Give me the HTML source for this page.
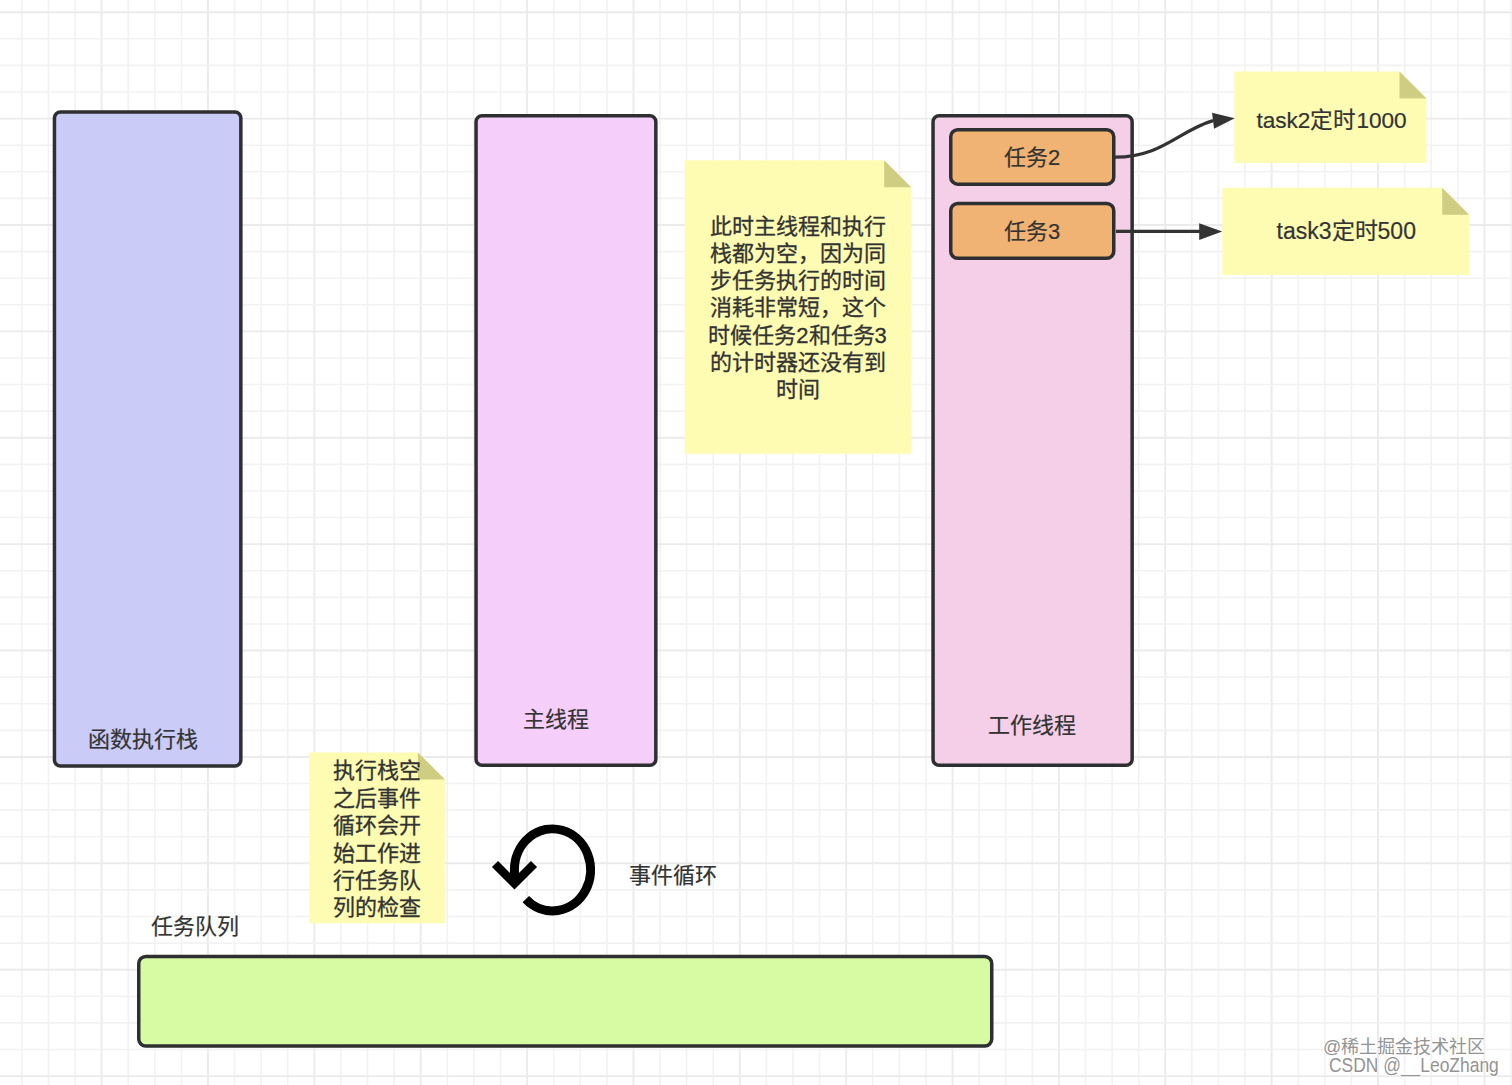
<!DOCTYPE html>
<html lang="zh-CN"><head><meta charset="utf-8"><style>
html,body{margin:0;padding:0;background:#fff;width:1512px;height:1085px;overflow:hidden}
body{position:relative;font-family:"Liberation Sans",sans-serif}
svg{position:absolute;left:0;top:0}
.t{position:absolute;white-space:nowrap;line-height:1.2;color:#333;-webkit-text-stroke:0.4px #333}
.wm{position:absolute;white-space:nowrap;line-height:1.2;color:#939393;text-shadow:0 1px 0 #fff,1px 0 0 #fff,-1px 0 0 #fff,0 -1px 0 #fff}
</style></head><body>
<svg width="1512" height="1085" viewBox="0 0 1512 1085">
<g><line x1="21.85" y1="0" x2="21.85" y2="1085" stroke="#f2f2f2" stroke-width="1.6"/>
<line x1="48.44" y1="0" x2="48.44" y2="1085" stroke="#f2f2f2" stroke-width="1.6"/>
<line x1="75.03" y1="0" x2="75.03" y2="1085" stroke="#f2f2f2" stroke-width="1.6"/>
<line x1="101.62" y1="0" x2="101.62" y2="1085" stroke="#ebebeb" stroke-width="1.9"/>
<line x1="128.22" y1="0" x2="128.22" y2="1085" stroke="#f2f2f2" stroke-width="1.6"/>
<line x1="154.81" y1="0" x2="154.81" y2="1085" stroke="#f2f2f2" stroke-width="1.6"/>
<line x1="181.40" y1="0" x2="181.40" y2="1085" stroke="#f2f2f2" stroke-width="1.6"/>
<line x1="207.99" y1="0" x2="207.99" y2="1085" stroke="#ebebeb" stroke-width="1.9"/>
<line x1="234.58" y1="0" x2="234.58" y2="1085" stroke="#f2f2f2" stroke-width="1.6"/>
<line x1="261.17" y1="0" x2="261.17" y2="1085" stroke="#f2f2f2" stroke-width="1.6"/>
<line x1="287.76" y1="0" x2="287.76" y2="1085" stroke="#f2f2f2" stroke-width="1.6"/>
<line x1="314.36" y1="0" x2="314.36" y2="1085" stroke="#ebebeb" stroke-width="1.9"/>
<line x1="340.95" y1="0" x2="340.95" y2="1085" stroke="#f2f2f2" stroke-width="1.6"/>
<line x1="367.54" y1="0" x2="367.54" y2="1085" stroke="#f2f2f2" stroke-width="1.6"/>
<line x1="394.13" y1="0" x2="394.13" y2="1085" stroke="#f2f2f2" stroke-width="1.6"/>
<line x1="420.72" y1="0" x2="420.72" y2="1085" stroke="#ebebeb" stroke-width="1.9"/>
<line x1="447.31" y1="0" x2="447.31" y2="1085" stroke="#f2f2f2" stroke-width="1.6"/>
<line x1="473.90" y1="0" x2="473.90" y2="1085" stroke="#f2f2f2" stroke-width="1.6"/>
<line x1="500.50" y1="0" x2="500.50" y2="1085" stroke="#f2f2f2" stroke-width="1.6"/>
<line x1="527.09" y1="0" x2="527.09" y2="1085" stroke="#ebebeb" stroke-width="1.9"/>
<line x1="553.68" y1="0" x2="553.68" y2="1085" stroke="#f2f2f2" stroke-width="1.6"/>
<line x1="580.27" y1="0" x2="580.27" y2="1085" stroke="#f2f2f2" stroke-width="1.6"/>
<line x1="606.86" y1="0" x2="606.86" y2="1085" stroke="#f2f2f2" stroke-width="1.6"/>
<line x1="633.45" y1="0" x2="633.45" y2="1085" stroke="#ebebeb" stroke-width="1.9"/>
<line x1="660.04" y1="0" x2="660.04" y2="1085" stroke="#f2f2f2" stroke-width="1.6"/>
<line x1="686.63" y1="0" x2="686.63" y2="1085" stroke="#f2f2f2" stroke-width="1.6"/>
<line x1="713.23" y1="0" x2="713.23" y2="1085" stroke="#f2f2f2" stroke-width="1.6"/>
<line x1="739.82" y1="0" x2="739.82" y2="1085" stroke="#ebebeb" stroke-width="1.9"/>
<line x1="766.41" y1="0" x2="766.41" y2="1085" stroke="#f2f2f2" stroke-width="1.6"/>
<line x1="793.00" y1="0" x2="793.00" y2="1085" stroke="#f2f2f2" stroke-width="1.6"/>
<line x1="819.59" y1="0" x2="819.59" y2="1085" stroke="#f2f2f2" stroke-width="1.6"/>
<line x1="846.18" y1="0" x2="846.18" y2="1085" stroke="#ebebeb" stroke-width="1.9"/>
<line x1="872.77" y1="0" x2="872.77" y2="1085" stroke="#f2f2f2" stroke-width="1.6"/>
<line x1="899.37" y1="0" x2="899.37" y2="1085" stroke="#f2f2f2" stroke-width="1.6"/>
<line x1="925.96" y1="0" x2="925.96" y2="1085" stroke="#f2f2f2" stroke-width="1.6"/>
<line x1="952.55" y1="0" x2="952.55" y2="1085" stroke="#ebebeb" stroke-width="1.9"/>
<line x1="979.14" y1="0" x2="979.14" y2="1085" stroke="#f2f2f2" stroke-width="1.6"/>
<line x1="1005.73" y1="0" x2="1005.73" y2="1085" stroke="#f2f2f2" stroke-width="1.6"/>
<line x1="1032.32" y1="0" x2="1032.32" y2="1085" stroke="#f2f2f2" stroke-width="1.6"/>
<line x1="1058.91" y1="0" x2="1058.91" y2="1085" stroke="#ebebeb" stroke-width="1.9"/>
<line x1="1085.51" y1="0" x2="1085.51" y2="1085" stroke="#f2f2f2" stroke-width="1.6"/>
<line x1="1112.10" y1="0" x2="1112.10" y2="1085" stroke="#f2f2f2" stroke-width="1.6"/>
<line x1="1138.69" y1="0" x2="1138.69" y2="1085" stroke="#f2f2f2" stroke-width="1.6"/>
<line x1="1165.28" y1="0" x2="1165.28" y2="1085" stroke="#ebebeb" stroke-width="1.9"/>
<line x1="1191.87" y1="0" x2="1191.87" y2="1085" stroke="#f2f2f2" stroke-width="1.6"/>
<line x1="1218.46" y1="0" x2="1218.46" y2="1085" stroke="#f2f2f2" stroke-width="1.6"/>
<line x1="1245.05" y1="0" x2="1245.05" y2="1085" stroke="#f2f2f2" stroke-width="1.6"/>
<line x1="1271.65" y1="0" x2="1271.65" y2="1085" stroke="#ebebeb" stroke-width="1.9"/>
<line x1="1298.24" y1="0" x2="1298.24" y2="1085" stroke="#f2f2f2" stroke-width="1.6"/>
<line x1="1324.83" y1="0" x2="1324.83" y2="1085" stroke="#f2f2f2" stroke-width="1.6"/>
<line x1="1351.42" y1="0" x2="1351.42" y2="1085" stroke="#f2f2f2" stroke-width="1.6"/>
<line x1="1378.01" y1="0" x2="1378.01" y2="1085" stroke="#ebebeb" stroke-width="1.9"/>
<line x1="1404.60" y1="0" x2="1404.60" y2="1085" stroke="#f2f2f2" stroke-width="1.6"/>
<line x1="1431.19" y1="0" x2="1431.19" y2="1085" stroke="#f2f2f2" stroke-width="1.6"/>
<line x1="1457.79" y1="0" x2="1457.79" y2="1085" stroke="#f2f2f2" stroke-width="1.6"/>
<line x1="1484.38" y1="0" x2="1484.38" y2="1085" stroke="#ebebeb" stroke-width="1.9"/>
<line x1="1510.97" y1="0" x2="1510.97" y2="1085" stroke="#f2f2f2" stroke-width="1.6"/>
<line x1="0" y1="12.21" x2="1512" y2="12.21" stroke="#ebebeb" stroke-width="1.9"/>
<line x1="0" y1="38.81" x2="1512" y2="38.81" stroke="#f2f2f2" stroke-width="1.6"/>
<line x1="0" y1="65.40" x2="1512" y2="65.40" stroke="#f2f2f2" stroke-width="1.6"/>
<line x1="0" y1="92.00" x2="1512" y2="92.00" stroke="#f2f2f2" stroke-width="1.6"/>
<line x1="0" y1="118.60" x2="1512" y2="118.60" stroke="#ebebeb" stroke-width="1.9"/>
<line x1="0" y1="145.20" x2="1512" y2="145.20" stroke="#f2f2f2" stroke-width="1.6"/>
<line x1="0" y1="171.79" x2="1512" y2="171.79" stroke="#f2f2f2" stroke-width="1.6"/>
<line x1="0" y1="198.39" x2="1512" y2="198.39" stroke="#f2f2f2" stroke-width="1.6"/>
<line x1="0" y1="224.99" x2="1512" y2="224.99" stroke="#ebebeb" stroke-width="1.9"/>
<line x1="0" y1="251.58" x2="1512" y2="251.58" stroke="#f2f2f2" stroke-width="1.6"/>
<line x1="0" y1="278.18" x2="1512" y2="278.18" stroke="#f2f2f2" stroke-width="1.6"/>
<line x1="0" y1="304.78" x2="1512" y2="304.78" stroke="#f2f2f2" stroke-width="1.6"/>
<line x1="0" y1="331.37" x2="1512" y2="331.37" stroke="#ebebeb" stroke-width="1.9"/>
<line x1="0" y1="357.97" x2="1512" y2="357.97" stroke="#f2f2f2" stroke-width="1.6"/>
<line x1="0" y1="384.57" x2="1512" y2="384.57" stroke="#f2f2f2" stroke-width="1.6"/>
<line x1="0" y1="411.17" x2="1512" y2="411.17" stroke="#f2f2f2" stroke-width="1.6"/>
<line x1="0" y1="437.76" x2="1512" y2="437.76" stroke="#ebebeb" stroke-width="1.9"/>
<line x1="0" y1="464.36" x2="1512" y2="464.36" stroke="#f2f2f2" stroke-width="1.6"/>
<line x1="0" y1="490.96" x2="1512" y2="490.96" stroke="#f2f2f2" stroke-width="1.6"/>
<line x1="0" y1="517.55" x2="1512" y2="517.55" stroke="#f2f2f2" stroke-width="1.6"/>
<line x1="0" y1="544.15" x2="1512" y2="544.15" stroke="#ebebeb" stroke-width="1.9"/>
<line x1="0" y1="570.75" x2="1512" y2="570.75" stroke="#f2f2f2" stroke-width="1.6"/>
<line x1="0" y1="597.34" x2="1512" y2="597.34" stroke="#f2f2f2" stroke-width="1.6"/>
<line x1="0" y1="623.94" x2="1512" y2="623.94" stroke="#f2f2f2" stroke-width="1.6"/>
<line x1="0" y1="650.54" x2="1512" y2="650.54" stroke="#ebebeb" stroke-width="1.9"/>
<line x1="0" y1="677.14" x2="1512" y2="677.14" stroke="#f2f2f2" stroke-width="1.6"/>
<line x1="0" y1="703.73" x2="1512" y2="703.73" stroke="#f2f2f2" stroke-width="1.6"/>
<line x1="0" y1="730.33" x2="1512" y2="730.33" stroke="#f2f2f2" stroke-width="1.6"/>
<line x1="0" y1="756.93" x2="1512" y2="756.93" stroke="#ebebeb" stroke-width="1.9"/>
<line x1="0" y1="783.52" x2="1512" y2="783.52" stroke="#f2f2f2" stroke-width="1.6"/>
<line x1="0" y1="810.12" x2="1512" y2="810.12" stroke="#f2f2f2" stroke-width="1.6"/>
<line x1="0" y1="836.72" x2="1512" y2="836.72" stroke="#f2f2f2" stroke-width="1.6"/>
<line x1="0" y1="863.31" x2="1512" y2="863.31" stroke="#ebebeb" stroke-width="1.9"/>
<line x1="0" y1="889.91" x2="1512" y2="889.91" stroke="#f2f2f2" stroke-width="1.6"/>
<line x1="0" y1="916.51" x2="1512" y2="916.51" stroke="#f2f2f2" stroke-width="1.6"/>
<line x1="0" y1="943.11" x2="1512" y2="943.11" stroke="#f2f2f2" stroke-width="1.6"/>
<line x1="0" y1="969.70" x2="1512" y2="969.70" stroke="#ebebeb" stroke-width="1.9"/>
<line x1="0" y1="996.30" x2="1512" y2="996.30" stroke="#f2f2f2" stroke-width="1.6"/>
<line x1="0" y1="1022.90" x2="1512" y2="1022.90" stroke="#f2f2f2" stroke-width="1.6"/>
<line x1="0" y1="1049.49" x2="1512" y2="1049.49" stroke="#f2f2f2" stroke-width="1.6"/>
<line x1="0" y1="1076.09" x2="1512" y2="1076.09" stroke="#ebebeb" stroke-width="1.9"/></g>
<rect x="54.45" y="111.95" width="186.40" height="654.00" rx="6" ry="6" fill="#cbcbf8" stroke="#2e2f31" stroke-width="3.5"/><rect x="476.05" y="115.85" width="179.80" height="649.50" rx="6" ry="6" fill="#f5cffa" stroke="#2e2f31" stroke-width="3.5"/><rect x="933.05" y="115.85" width="199.10" height="649.50" rx="6" ry="6" fill="#f4cfe7" stroke="#2e2f31" stroke-width="3.5"/><rect x="950.75" y="129.65" width="163.00" height="54.50" rx="7" ry="7" fill="#f0b373" stroke="#2e2f31" stroke-width="3.5"/><rect x="950.75" y="203.55" width="163.00" height="54.80" rx="7" ry="7" fill="#f0b373" stroke="#2e2f31" stroke-width="3.5"/><rect x="138.75" y="956.55" width="853.00" height="89.50" rx="7" ry="7" fill="#d6fba3" stroke="#2e2f31" stroke-width="3.5"/><path d="M684.7,160.3 L884.2,160.3 L911.2,187.3 L911.2,453.8 L684.7,453.8 Z" fill="#fdfcb2"/><path d="M884.2,160.3 L884.2,187.3 L911.2,187.3 Z" fill="#cfcd82"/><path d="M1234.5,71.5 L1399.5,71.5 L1426.5,98.5 L1426.5,163 L1234.5,163 Z" fill="#fdfcb2"/><path d="M1399.5,71.5 L1399.5,98.5 L1426.5,98.5 Z" fill="#cfcd82"/><path d="M1222.4,187.8 L1442.2,187.8 L1469.2,214.8 L1469.2,274.9 L1222.4,274.9 Z" fill="#fdfcb2"/><path d="M1442.2,187.8 L1442.2,214.8 L1469.2,214.8 Z" fill="#cfcd82"/><path d="M309.2,752.4 L417.9,752.4 L444.9,779.4 L444.9,923.3 L309.2,923.3 Z" fill="#fdfcb2"/><path d="M417.9,752.4 L417.9,779.4 L444.9,779.4 Z" fill="#cfcd82"/><path d="M1115,157.2 C1162,157.2 1179,130.5 1213,120.6" fill="none" stroke="#333" stroke-width="3.2"/><path d="M1234.7,118.2 L1212,112.8 L1214,128.8 Z" fill="#333"/><path d="M1116,231.3 L1202,231.3" fill="none" stroke="#333" stroke-width="3.2"/><path d="M1222.2,231.6 L1199.2,223.3 L1199.2,240 Z" fill="#333"/><path d="M525.80,899.14 A38.1,41.0 0 1 0 514.40,869.90 L514.70,879.90" fill="none" stroke="#000" stroke-width="9"/><path d="M495,864 L514.5,883.5 L534,864" fill="none" stroke="#000" stroke-width="8.6" stroke-linejoin="miter"/>
</svg>
<div class="t" style="left:87.70px;top:726.80px;font-size:22px;-webkit-text-stroke:0.2px #333;">函数执行栈</div><div class="t" style="left:523.40px;top:707.40px;font-size:22px;-webkit-text-stroke:0.2px #333;">主线程</div><div class="t" style="left:987.60px;top:713.00px;font-size:22px;-webkit-text-stroke:0.2px #333;">工作线程</div><div class="t" style="left:1004.00px;top:145.40px;font-size:22px;-webkit-text-stroke:0.2px #333;">任务2</div><div class="t" style="left:1004.00px;top:218.80px;font-size:22px;-webkit-text-stroke:0.2px #333;">任务3</div><div class="t" style="left:1256.40px;top:106.60px;font-size:22.6px;-webkit-text-stroke:0.2px #333;">task2定时1000</div><div class="t" style="left:1276.60px;top:218.20px;font-size:23px;-webkit-text-stroke:0.2px #333;">task3定时500</div><div class="t" style="left:684.60px;top:212.50px;font-size:22px;line-height:27.32px;width:226px;text-align:center;-webkit-text-stroke:0.3px #333;">此时主线程和执行<br>栈都为空，因为同<br>步任务执行的时间<br>消耗非常短，这个<br>时候任务2和任务3<br>的计时器还没有到<br>时间</div><div class="t" style="left:308.80px;top:757.20px;font-size:22px;line-height:27.44px;width:135.5px;text-align:center;-webkit-text-stroke:0.3px #333;">执行栈空<br>之后事件<br>循环会开<br>始工作进<br>行任务队<br>列的检查</div><div class="t" style="left:628.80px;top:863.20px;font-size:22px;-webkit-text-stroke:0.2px #333;">事件循环</div><div class="t" style="left:150.80px;top:914.20px;font-size:22px;-webkit-text-stroke:0.2px #333;">任务队列</div><div class="wm" style="left:1323.00px;top:1037.30px;font-size:18px;">@稀土掘金技术社区</div><div class="wm" style="left:1329.00px;top:1052.70px;font-size:20.5px;transform:scaleX(0.85);transform-origin:0 0;">CSDN @__LeoZhang</div>
</body></html>
